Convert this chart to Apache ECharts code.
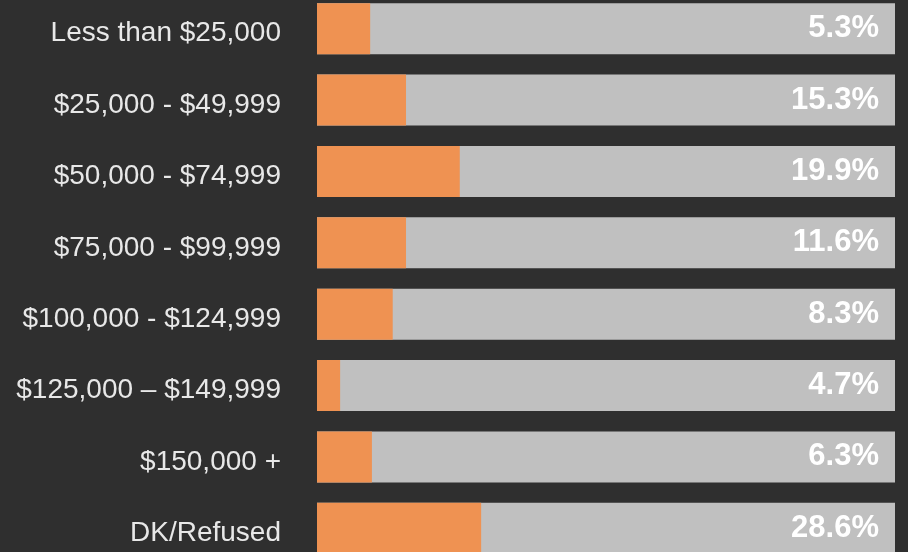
<!DOCTYPE html>
<html>
<head>
<meta charset="utf-8">
<style>
html,body{margin:0;padding:0;background:#2f2f2f;}
#c{width:908px;height:552px;}
</style>
<script src="https://cdn.jsdelivr.net/npm/echarts@6/dist/echarts.min.js"></script>
</head>
<body>
<div id="c"></div>
<script>
const categories = ["Less than $25,000", "$25,000 - $49,999", "$50,000 - $74,999", "$75,000 - $99,999", "$100,000 - $124,999", "$125,000 \u2013 $149,999", "$150,000 +", "DK/Refused"];
const percentLabels = ["5.3%", "15.3%", "19.9%", "11.6%", "8.3%", "4.7%", "6.3%", "28.6%"];
const barShares = [9.2, 15.4, 24.7, 15.4, 13.1, 4.0, 9.5, 28.4];
const fullScale = [100, 100, 100, 100, 100, 100, 100, 100];

const chart = echarts.init(document.getElementById('c'), null, {renderer: 'canvas'});
chart.setOption({
  backgroundColor: '#2f2f2f',
  animation: false,
  grid: {left: 317, right: 13, top: -7, height: 571, containLabel: false, outerBoundsMode: 'none'},
  xAxis: {type: 'value', min: 0, max: 100, show: false},
  yAxis: {
    type: 'category', data: categories, inverse: true,
    axisLine: {show: false}, axisTick: {show: false}, splitLine: {show: false},
    axisLabel: {color: '#e8e8e8', fontSize: 28, fontFamily: 'Liberation Sans, Arial, sans-serif', margin: 36, verticalAlign: 'top', lineHeight: 10}
  },
  series: [
    {
      type: 'bar', data: fullScale, barWidth: 51, barGap: '-100%', z: 1,
      itemStyle: {color: '#c0c0c0'},
      label: {
        show: true, position: 'insideRight', distance: 16,
        formatter: p => percentLabels[p.dataIndex],
        color: '#ffffff', fontSize: 31, fontWeight: 'bold', fontFamily: 'Liberation Sans, Arial, sans-serif'
      }
    },
    {
      type: 'bar', data: barShares, barWidth: 51, z: 2,
      itemStyle: {color: '#ef9252'}
    }
  ]
});
</script>
</body>
</html>
